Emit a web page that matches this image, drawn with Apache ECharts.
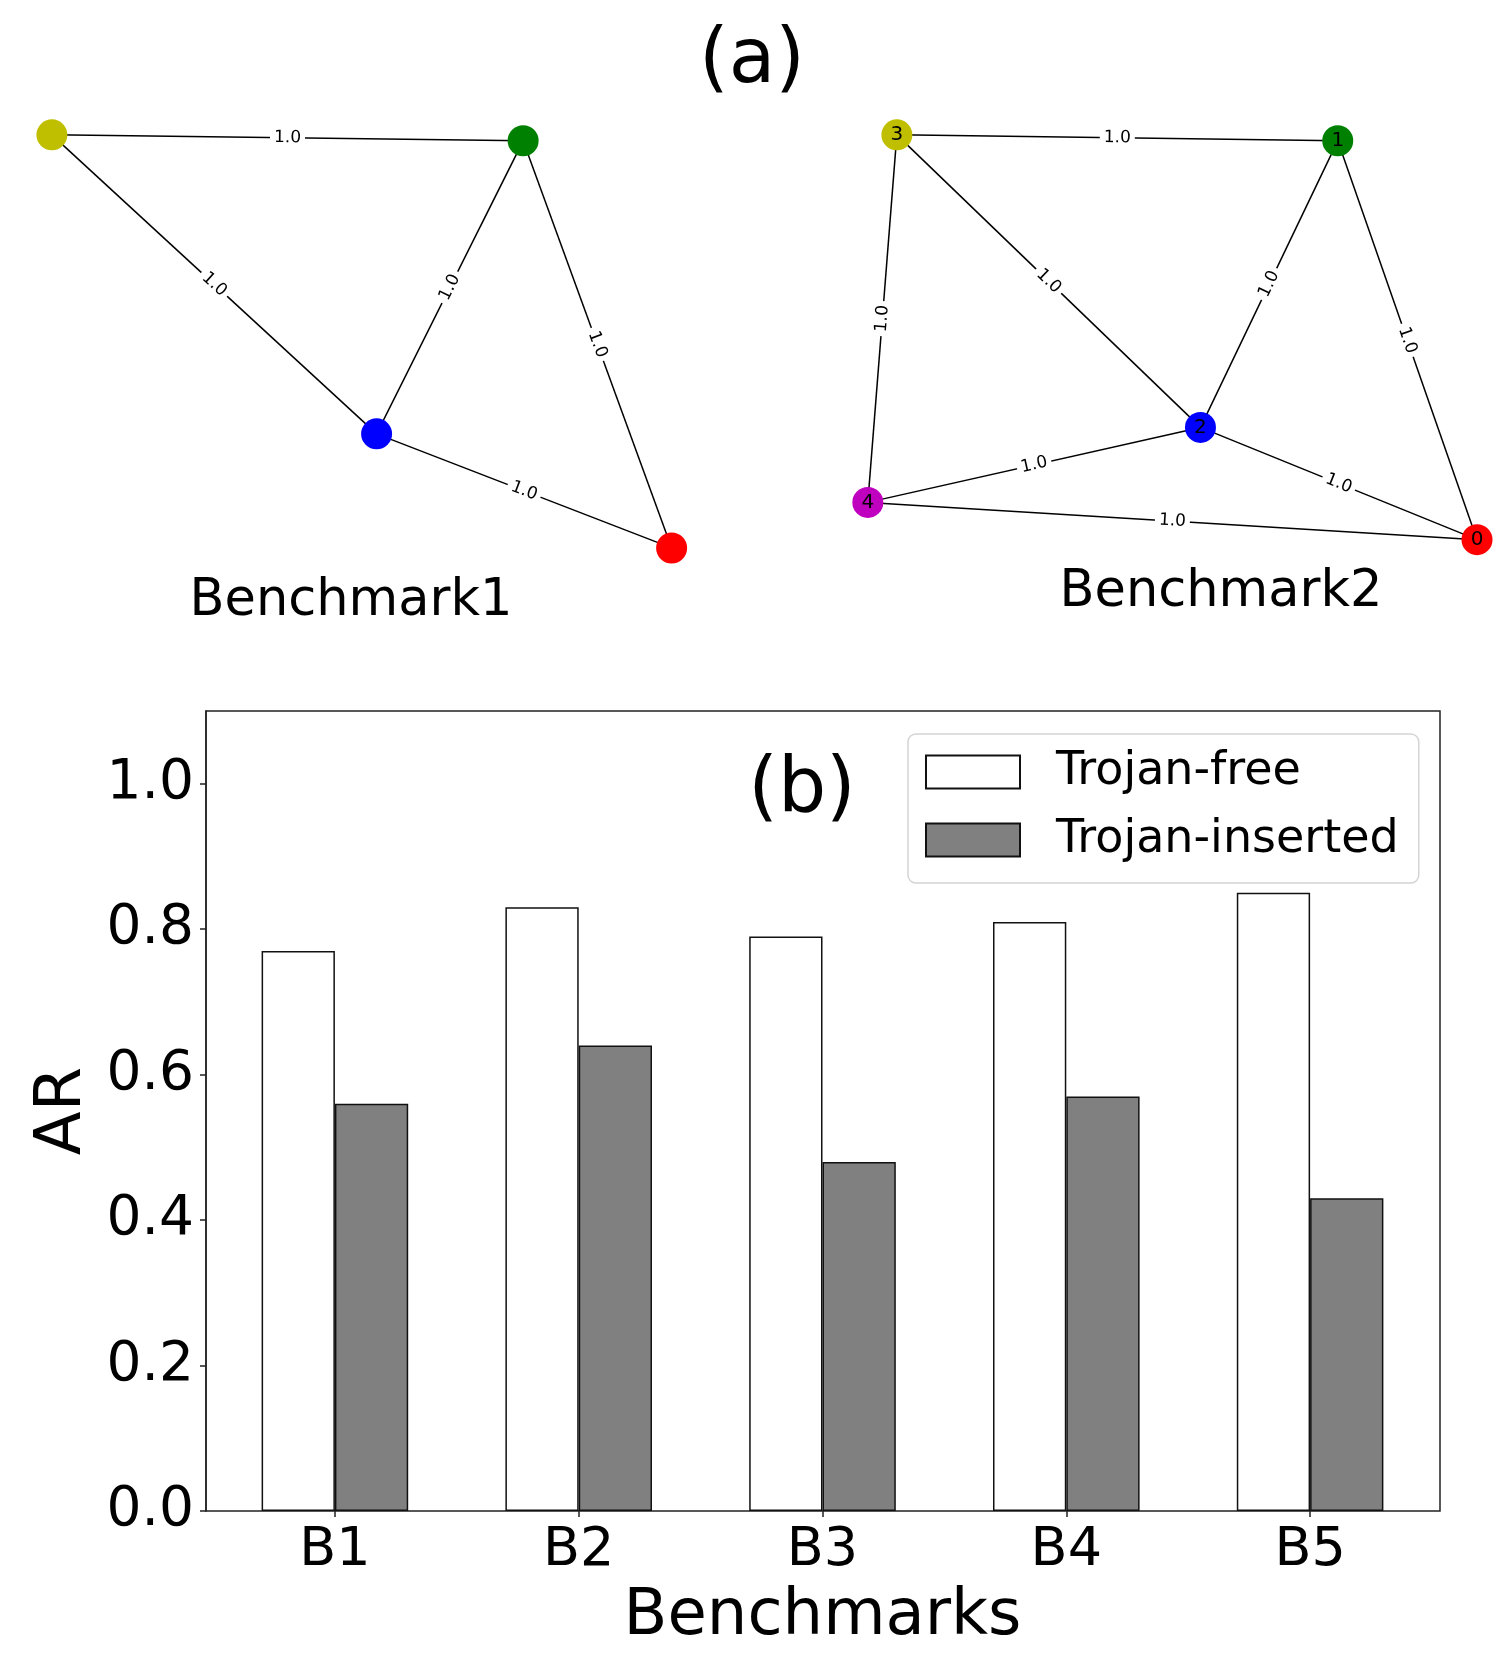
<!DOCTYPE html>
<html>
<head>
<meta charset="utf-8">
<script src="https://cdn.jsdelivr.net/npm/echarts@6/dist/echarts.min.js"></script>
<style>
html,body{margin:0;padding:0;background:#fff;}
#main{width:1509px;height:1680px;}
</style>
</head>
<body>
<div id="main"></div>
<script>
// ---- Bar chart data ----
const categories = ['B1', 'B2', 'B3', 'B4', 'B5'];
const trojanFree = [0.77, 0.83, 0.79, 0.81, 0.85];
const trojanInserted = [0.56, 0.64, 0.48, 0.57, 0.43];
const yTicks = [0.0, 0.2, 0.4, 0.6, 0.8, 1.0];
const seriesNames = ['Trojan-free', 'Trojan-inserted'];

// ---- Graph (a) data: layout coordinates in a unit box ----
const g1Names = ['A', 'B', 'C', 'D'];
const g1X = [0.018, 0.732, 0.510, 0.957];
const g1Y = [0.946, 0.933, 0.296, 0.048];
const g1Colors = ['#bfbf00', '#008000', '#0000ff', '#ff0000'];
const g1Edges = [[0, 1], [0, 2], [1, 2], [1, 3], [2, 3]];
const g1Weights = [1.0, 1.0, 1.0, 1.0, 1.0];

const g2Names = ['3', '1', '2', '4', '0'];
const g2X = [0.071, 0.739, 0.531, 0.027, 0.950];
const g2Y = [0.946, 0.933, 0.310, 0.147, 0.066];
const g2Colors = ['#bfbf00', '#008000', '#0000ff', '#bf00bf', '#ff0000'];
const g2Edges = [['3', '1'], ['3', '2'], ['3', '4'], ['1', '2'], ['1', '0'], ['2', '4'], ['2', '0'], ['4', '0']];
const g2Weights = [1.0, 1.0, 1.0, 1.0, 1.0, 1.0, 1.0, 1.0];

const FONT = 'DejaVu Sans';

function graphSeries(names, xs, ys, colors, edges, weights, idx, showLabel) {
  return {
    type: 'graph',
    coordinateSystem: 'cartesian2d',
    xAxisIndex: idx, yAxisIndex: idx,
    silent: true,
    animation: false,
    symbol: 'circle',
    symbolSize: 31,
    z: 5,
    data: names.map((n, i) => ({
      name: n, value: [xs[i], ys[i]],
      itemStyle: { color: colors[i] }
    })),
    links: edges.map((e, i) => ({
      source: typeof e[0] === 'number' ? names[e[0]] : e[0],
      target: typeof e[1] === 'number' ? names[e[1]] : e[1],
      value: weights[i]
    })),
    label: {
      show: showLabel, position: 'inside', color: '#000',
      fontFamily: FONT, fontSize: 20, formatter: '{b}'
    },
    lineStyle: { color: '#000', width: 1.5, opacity: 1, curveness: 0 },
    edgeLabel: {
      show: true, position: 'middle', distance: 0, verticalAlign: 'middle', align: 'center',
      color: '#000', fontFamily: FONT, fontSize: 17,
      backgroundColor: '#fff', padding: [2, 4],
      formatter: p => Number(p.value).toFixed(1)
    }
  };
}

const chart = echarts.init(document.getElementById('main'), null, { renderer: 'canvas' });

const frame = { left: 206, right: 69, top: 711, bottom: 169 };
const barGrid = { left: 213, right: 77, top: 711, bottom: 169 };

const option = {
  backgroundColor: '#fff',
  animation: false,
  textStyle: { fontFamily: FONT },
  grid: [
    Object.assign({ show: true, borderColor: '#222', borderWidth: 1.5, backgroundColor: 'transparent', outerBoundsMode: 'none' }, frame),
    Object.assign({ outerBoundsMode: 'none' }, barGrid),
    { left: 40, top: 110, width: 660, height: 460, outerBoundsMode: 'none' },
    { left: 850, top: 110, width: 660, height: 460, outerBoundsMode: 'none' }
  ],
  xAxis: [
    { gridIndex: 0, type: 'value', show: false, min: 0, max: 1 },
    {
      gridIndex: 1, type: 'category', data: categories,
      axisLine: { show: false },
      axisTick: { show: true, alignWithLabel: true, length: 6, lineStyle: { color: '#222', width: 1.5 } },
      axisLabel: { fontFamily: FONT, fontSize: 54, color: '#000', margin: 13 },
      name: 'Benchmarks', nameLocation: 'middle', nameGap: 74,
      nameTextStyle: { fontFamily: FONT, fontSize: 64, color: '#000' }
    },
    { gridIndex: 2, type: 'value', show: false, min: 0, max: 1 },
    { gridIndex: 3, type: 'value', show: false, min: 0, max: 1 }
  ],
  yAxis: [
    {
      gridIndex: 0, type: 'value', min: 0, max: 1.1,
      splitLine: { show: false },
      axisLine: { show: true, lineStyle: { color: '#222', width: 1.5 } },
      axisTick: { show: true, length: 6, lineStyle: { color: '#222', width: 1.5 }, customValues: yTicks },
      axisLabel: { fontFamily: FONT, fontSize: 55, color: '#000', margin: 12, customValues: yTicks,
                   formatter: v => Number(v).toFixed(1) },
      name: 'AR', nameLocation: 'middle', nameGap: 107,
      nameTextStyle: { fontFamily: FONT, fontSize: 64, color: '#000' }
    },
    { gridIndex: 1, type: 'value', min: 0, max: 1.1, show: false, splitLine: { show: false } },
    { gridIndex: 2, type: 'value', show: false, min: 0, max: 1 },
    { gridIndex: 3, type: 'value', show: false, min: 0, max: 1 }
  ],
  legend: {
    orient: 'vertical', left: 908, top: 734,
    padding: [15, 20, 20, 17],
    itemWidth: 94, itemHeight: 33, itemGap: 22,
    icon: 'rect',
    backgroundColor: 'rgba(255,255,255,0.85)',
    borderColor: '#d4d4d4', borderWidth: 1.5, borderRadius: 8,
    textStyle: { fontFamily: FONT, fontSize: 46, lineHeight: 46, color: '#000', padding: [0, 0, 0, 31] },
    data: seriesNames,
    z: 10
  },
  graphic: [
    { type: 'text', style: { text: '(a)', x: 752, y: 62, textAlign: 'center', textVerticalAlign: 'middle', font: '76px "DejaVu Sans"', fill: '#000' } },
    { type: 'text', style: { text: 'Benchmark1', x: 351, y: 602, textAlign: 'center', textVerticalAlign: 'middle', font: '51px "DejaVu Sans"', fill: '#000' } },
    { type: 'text', style: { text: 'Benchmark2', x: 1221, y: 593, textAlign: 'center', textVerticalAlign: 'middle', font: '51px "DejaVu Sans"', fill: '#000' } },
    { type: 'text', z: 20, style: { text: '(b)', x: 802, y: 791, textAlign: 'center', textVerticalAlign: 'middle', font: '76px "DejaVu Sans"', fill: '#000' } }
  ],
  series: [
    {
      name: seriesNames[0], type: 'bar', xAxisIndex: 1, yAxisIndex: 1,
      data: trojanFree, barWidth: 73.3, barGap: '0%',
      itemStyle: { color: '#ffffff', borderColor: '#111', borderWidth: 1.5 }
    },
    {
      name: seriesNames[1], type: 'bar', xAxisIndex: 1, yAxisIndex: 1,
      data: trojanInserted, barWidth: 73.3, barGap: '0%',
      itemStyle: { color: '#808080', borderColor: '#111', borderWidth: 1.5 }
    },
    graphSeries(g1Names, g1X, g1Y, g1Colors, g1Edges, g1Weights, 2, false),
    graphSeries(g2Names, g2X, g2Y, g2Colors, g2Edges, g2Weights, 3, true)
  ]
};

chart.setOption(option);
</script>
</body>
</html>
